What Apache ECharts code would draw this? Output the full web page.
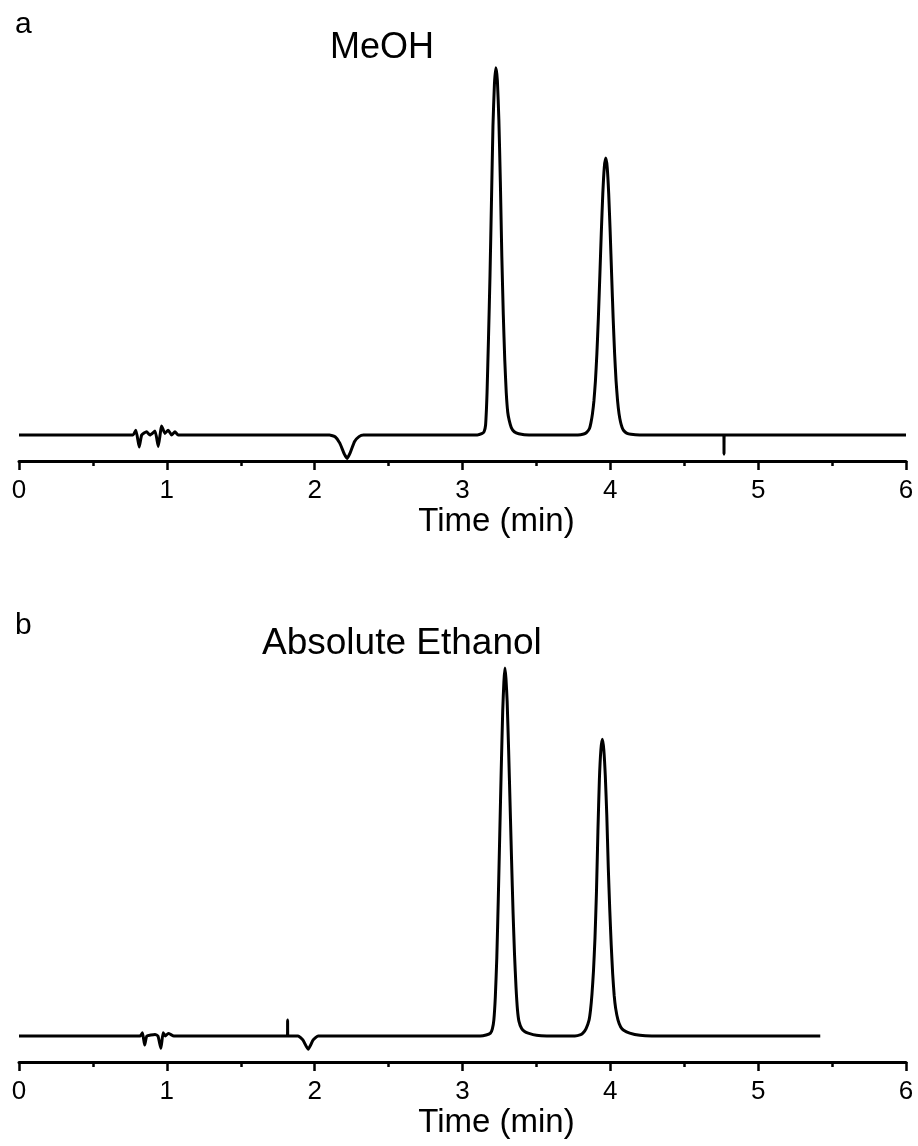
<!DOCTYPE html>
<html>
<head>
<meta charset="utf-8">
<script src="https://cdn.jsdelivr.net/npm/echarts@6/dist/echarts.min.js"></script>
<style>
html,body{margin:0;padding:0;background:#fff;}
#c{width:918px;height:1146px;}
</style>
</head>
<body>
<div id="c"></div>
<script>
// ---- data ----
var xTicks = [0, 1, 2, 3, 4, 5, 6];
var panelLabels = ['a', 'b'];
var panelTitles = ['MeOH', 'Absolute Ethanol'];
var axisTitle = 'Time (min)';

var timeA = [0, 0.771, 0.791, 0.813, 0.830, 0.863, 0.886, 0.920, 0.942, 0.965, 0.987, 1.009, 1.032, 1.055, 1.077,
  2.10, 2.14, 2.17, 2.20, 2.22, 2.24, 2.27, 2.30, 2.33,
  3.10, 3.13, 3.146, 3.156, 3.162, 3.166, 3.176, 3.186, 3.196, 3.206, 3.216, 3.226, 3.236, 3.246, 3.256, 3.266, 3.276, 3.286, 3.296, 3.306, 3.316, 3.33, 3.35, 3.38, 3.45,
  3.78, 3.82, 3.84, 3.859, 3.869, 3.879, 3.889, 3.899, 3.909, 3.919, 3.929, 3.939, 3.949, 3.959, 3.969, 3.979, 3.989, 3.999, 4.009, 4.019, 4.029, 4.039, 4.049, 4.059, 4.069, 4.079, 4.09, 4.11, 4.14, 4.20,
  4.768, 4.769, 4.770, 6.0];
var signalA = [0, 0, 1.5, -3.7, 0, 1.0, 0, 1.2, -3.5, 2.8, 0.5, 1.5, 0, 1.0, 0,
  0, -0.6, -2.5, -5.8, -7.2, -5.5, -2.0, -0.5, 0,
  0, 0.4, 1.0, 3, 8, 13, 30, 49, 72, 95, 108, 113, 109, 97, 78, 55, 37, 23, 13, 7, 4.5, 2.3, 1.0, 0.4, 0,
  0, 0.3, 0.8, 2.0, 3.8, 6.5, 10.5, 16.5, 25, 36, 49, 62.4, 74.2, 82.3, 85.2, 82.3, 74.2, 62.4, 49, 36, 25, 16.5, 10.5, 6.5, 4.0, 2.4, 1.4, 0.6, 0.2, 0,
  0, -5.9, 0, 0];

var timeB = [0, 0.82, 0.835, 0.850, 0.865, 0.92, 0.94, 0.960, 0.975, 0.99, 1.010, 1.048,
  1.816, 1.817, 1.818, 1.888, 1.92, 1.956, 1.99, 2.024,
  3.12, 3.16, 3.189, 3.202, 3.212, 3.222, 3.232, 3.242, 3.252, 3.262, 3.272, 3.280, 3.287, 3.294, 3.302, 3.312, 3.322, 3.332, 3.342, 3.352, 3.362, 3.372, 3.382, 3.40, 3.42, 3.444, 3.50, 3.57,
  3.76, 3.80, 3.815, 3.836, 3.856, 3.866, 3.876, 3.886, 3.896, 3.906, 3.916, 3.926, 3.936, 3.946, 3.956, 3.966, 3.976, 3.986, 3.996, 4.006, 4.016, 4.026, 4.036, 4.052, 4.07, 4.09, 4.131, 4.20, 4.28,
  5.42];
var signalB = [0, 0, 1.0, -2.8, 0, 0.5, 0, -3.8, 1.0, 0, 0.8, 0,
  0, 4.9, 0, 0, -1.2, -4.1, -1.2, 0,
  0, 0.3, 0.9, 2.2, 4.9, 12, 24, 42, 62, 82, 100, 109, 113.2, 110, 103, 88, 71, 54, 38, 25, 15, 8, 4.5, 2.3, 1.4, 0.9, 0.2, 0,
  0, 0.4, 0.9, 2.3, 4.9, 8, 13, 20, 30, 44, 63, 79, 88, 91.3, 88, 80, 68, 52, 39, 28, 19, 12.5, 8.5, 4.9, 2.8, 1.8, 0.9, 0.2, 0,
  0];

function pairs(t, v) { return t.map(function (x, i) { return [x, v[i]]; }); }

var FONT = 'Liberation Sans, Arial, sans-serif';

function xAxisCfg(gi) {
  return {
    gridIndex: gi, type: 'value', min: xTicks[0], max: xTicks[xTicks.length - 1], interval: 1,
    axisLine: { show: true, onZero: false, lineStyle: { color: '#000', width: 3 } },
    axisTick: { show: true, length: 9, lineStyle: { color: '#000', width: 2.5 } },
    minorTick: { show: true, splitNumber: 2, length: 5, lineStyle: { color: '#000', width: 2.5 } },
    splitLine: { show: false },
    axisLabel: { color: '#000', fontSize: 26, fontFamily: FONT, margin: 17 },
    name: axisTitle, nameLocation: 'middle', nameGap: 44,
    nameTextStyle: { color: '#000', fontSize: 33, fontFamily: FONT, padding: [0, 0, 0, 68] }
  };
}
function yAxisCfg(gi) {
  return { gridIndex: gi, type: 'value', min: -8, max: 120, show: false, splitLine: { show: false } };
}

var chart = echarts.init(document.getElementById('c'));
chart.setOption({
  backgroundColor: '#fff',
  animation: false,
  title: [
    { text: panelLabels[0], left: 10, top: 5, textStyle: { fontSize: 30, fontWeight: 'normal', color: '#000', fontFamily: FONT } },
    { text: panelTitles[0], left: 325, top: 25, textStyle: { fontSize: 36, fontWeight: 'normal', color: '#000', fontFamily: FONT } },
    { text: panelLabels[1], left: 10, top: 606, textStyle: { fontSize: 30, fontWeight: 'normal', color: '#000', fontFamily: FONT } },
    { text: panelTitles[1], left: 257, top: 620, textStyle: { fontSize: 37, fontWeight: 'normal', color: '#000', fontFamily: FONT } }
  ],
  grid: [
    { left: 19, right: 12, top: 45, height: 416, containLabel: false, outerBoundsMode: 'none' },
    { left: 19, right: 12, top: 646, height: 416, containLabel: false, outerBoundsMode: 'none' }
  ],
  xAxis: [xAxisCfg(0), xAxisCfg(1)],
  yAxis: [yAxisCfg(0), yAxisCfg(1)],
  series: [
    { type: 'line', xAxisIndex: 0, yAxisIndex: 0, data: pairs(timeA, signalA), showSymbol: false, smooth: 0.15,
      lineStyle: { color: '#000', width: 3 } },
    { type: 'line', xAxisIndex: 1, yAxisIndex: 1, data: pairs(timeB, signalB), showSymbol: false, smooth: 0.15,
      lineStyle: { color: '#000', width: 3 } }
  ]
});
</script>
</body>
</html>
